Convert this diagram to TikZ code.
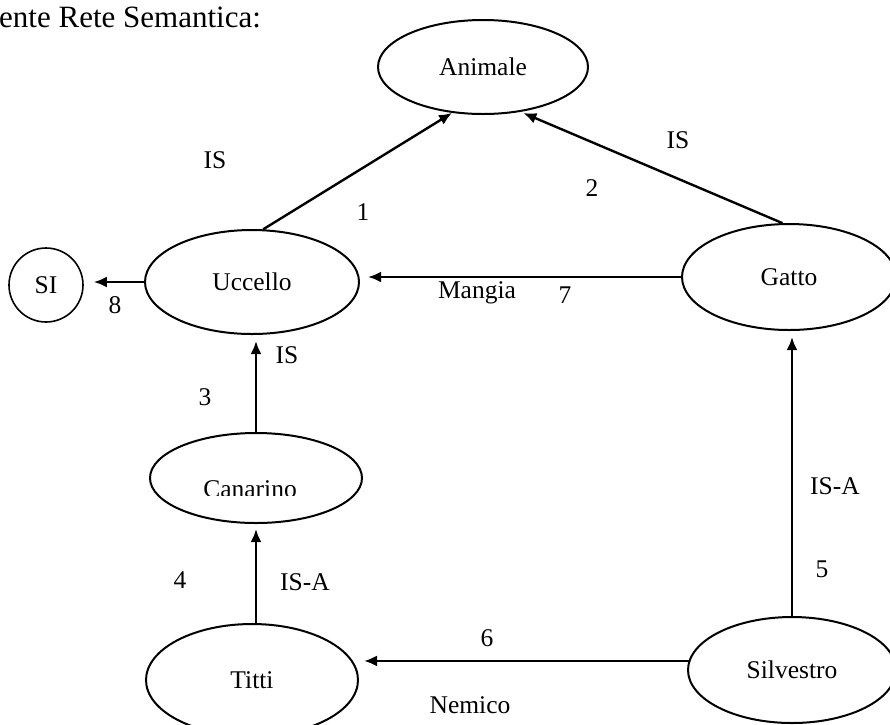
\documentclass[tikz,border=0pt]{standalone}
\usepackage{fontspec}
\setmainfont{Liberation Serif}
\usetikzlibrary{shapes.geometric,arrows.meta}
\begin{document}
\begin{tikzpicture}[x=1pt,y=-1pt,
  every node/.style={font=\fontsize{25.5}{30}\selectfont},
  ov/.style={draw, ellipse, line width=2pt, inner sep=0pt},
  lbl/.style={inner sep=0pt},
  arr/.style={line width=2.4pt, -{Latex[length=13pt,width=11pt]}}
]
\useasboundingbox (0,0) rectangle (890,724);
% title
\node[lbl, anchor=base west, font=\fontsize{31}{36}\selectfont] (title) at (-1,27) {ente Rete Semantica:};
% nodes
\node[ov, minimum width=210pt, minimum height=94pt] (ani) at (483,67) {Animale};
\node[ov, minimum width=214pt, minimum height=104pt] (ucc) at (252,282) {Uccello};
\node[ov, minimum width=214pt, minimum height=106pt] (gat) at (789,277) {Gatto};
\node[draw, circle, line width=1.6pt, minimum size=74pt, inner sep=0pt] (si) at (46,285) {SI};
\node[ov, minimum width=212pt, minimum height=90pt] (can) at (256,478) {};
\begin{scope}
  \clip (150,440) rectangle (362,495);
  \node[lbl, anchor=base] (cantext) at (250,497) {Canarino};
\end{scope}
\node[ov, minimum width=212pt, minimum height=112pt] (tit) at (252,680) {Titti};
\node[ov, minimum width=208pt, minimum height=106pt] (sil) at (792,670) {Silvestro};
% connectors
\draw[arr] (ucc.78) -- (ani.236);
\draw[arr, shorten >=3pt] (gat.97) -- (ani.310);
\draw[arr, shorten >=8pt] (gat.west) -- (gat.west -| ucc.east);
\draw[arr, shorten >=10pt] (ucc.west) -- (ucc.west -| si.east);
\draw[arr, shorten >=6pt] (can.north) -- (can.north |- ucc.south);
\draw[arr, shorten >=5pt] (tit.north -| can.south) -- (can.south);
\draw[arr, shorten >=6pt] (sil.north) -- (sil.north |- gat.south);
\draw[arr, shorten >=5pt] (sil.175) -- (sil.175 -| tit.east);
% labels
\node[lbl] (l1a) at (215,160) {IS};
\node[lbl] (l1n) at (363,212) {1};
\node[lbl] (l2a) at (678,140) {IS};
\node[lbl] (l2n) at (592,188) {2};
\node[lbl] (l8n) at (115,305) {8};
\node[lbl] (l7a) at (477,293) {Mangia};
\node[lbl] (l7n) at (565,295) {7};
\node[lbl] (l3n) at (205,397) {3};
\node[lbl] (l3a) at (287,355) {IS};
\node[lbl] (l5a) at (835,486) {IS-A};
\node[lbl] (l5n) at (822,569) {5};
\node[lbl] (l4n) at (180,580) {4};
\node[lbl] (l4a) at (305,582) {IS-A};
\node[lbl] (l6n) at (487,638) {6};
\node[lbl] (l6a) at (470,705) {Nemico};
\end{tikzpicture}
\end{document}
